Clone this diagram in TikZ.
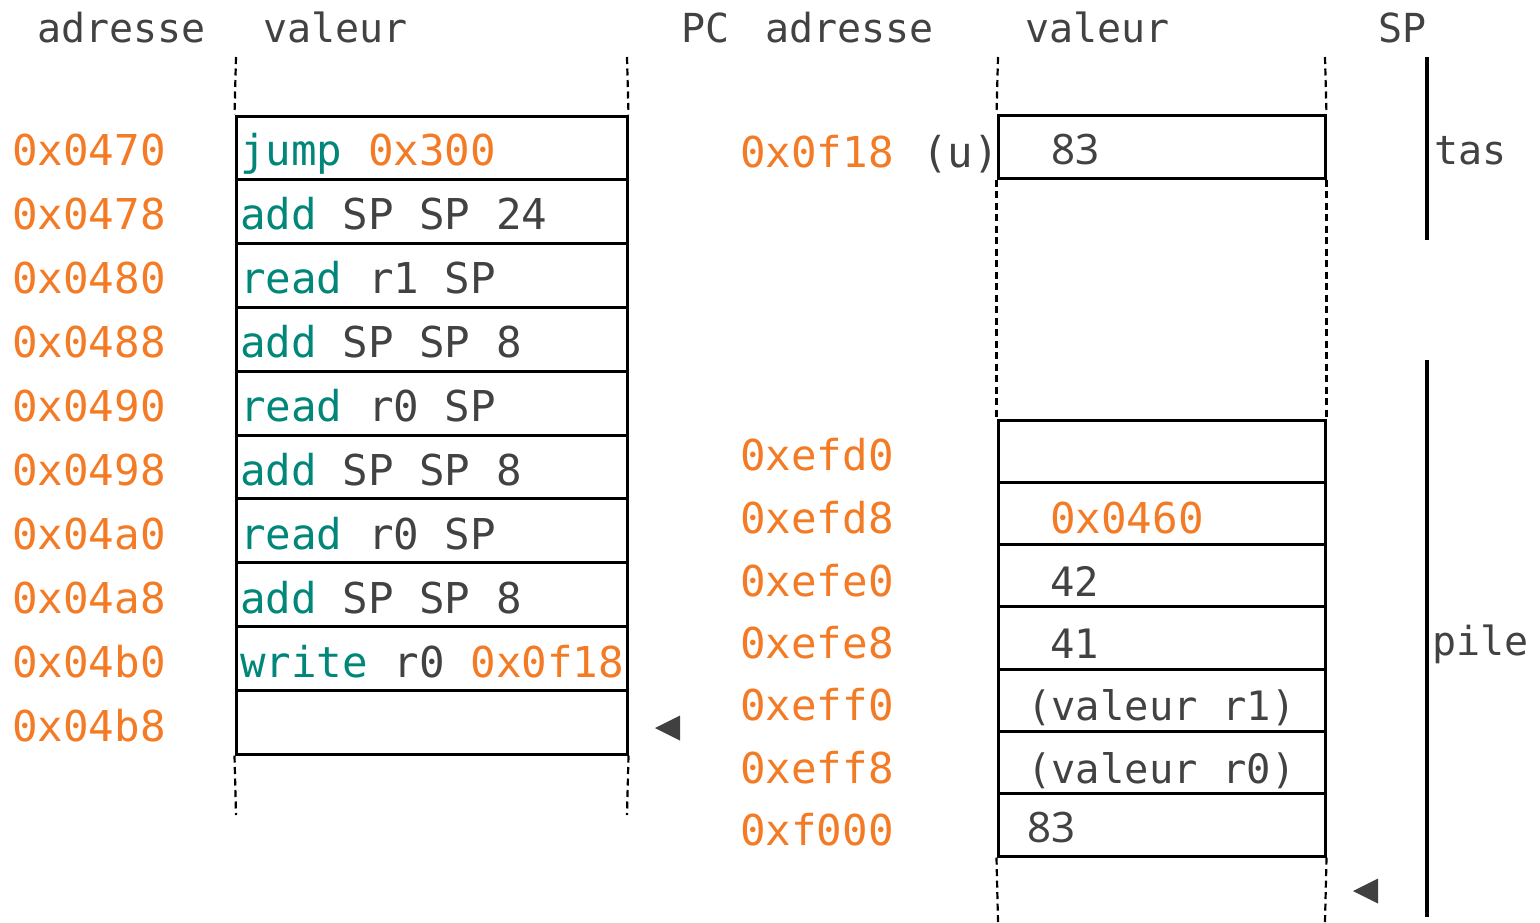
\documentclass[tikz,border=0pt]{standalone}
\usepackage{fontspec}
\setmainfont{Noto Sans}
\setmonofont{DejaVu Sans Mono}
\newfontfamily\numfont{Noto Sans}
\definecolor{txtc}{HTML}{424242}
\definecolor{addrc}{HTML}{F47B25}
\definecolor{kwc}{HTML}{00877A}
\definecolor{ptrc}{HTML}{404040}
\newcommand\codefont{\ttfamily\fontsize{42.5}{50}\selectfont}
\newcommand\headfont{\ttfamily\fontsize{40}{48}\selectfont}
\newcommand\valfont{\ttfamily\fontsize{40.5}{48}\selectfont}
\newcommand\numsfont{\numfont\fontsize{42}{50}\selectfont}
\newcommand\A[1]{\textcolor{addrc}{#1}}
\newcommand\K[1]{\textcolor{kwc}{#1}}
\begin{document}
\begin{tikzpicture}[x=1pt,y=-1pt,
  lcell/.style={draw=black,line width=3pt,minimum width=391pt,minimum height=63.8pt,inner sep=0pt},
  rcell/.style={draw=black,line width=3pt,minimum width=327pt,minimum height=62.3pt,inner sep=0pt},
  code/.style={anchor=base west,inner sep=0pt,font=\codefont,text=txtc},
  head/.style={anchor=base west,inner sep=0pt,font=\headfont,text=txtc},
  addr/.style={anchor=base west,inner sep=0pt,font=\codefont,text=addrc},
  val/.style={anchor=base west,inner sep=0pt,font=\valfont,text=txtc},
  nums/.style={anchor=base west,inner sep=0pt,font=\numsfont,text=txtc},
  guide/.style={draw=black,line width=2.2pt,dash pattern=on 7pt off 4.5pt},
  bar/.style={draw=black,line width=3.2pt},
  ptrtri/.style={fill=ptrc,draw=none}]
\useasboundingbox (0,0) rectangle (1540,922);

% headers
\node[head] (h1) at (37,42) {adresse};
\node[head] (h2) at (263,42) {valeur};
\node[head] (h3) at (681,42) {PC};
\node[head] (h4) at (765,42) {adresse};
\node[head] (h5) at (1025,42) {valeur};
\node[head] (h6) at (1378,42) {SP};

% left table cells
\foreach \i in {1,...,10}{
  \node[lcell] (L\i) at (431.5,{116+63.8*(\i-0.5)}) {};
}
% left addresses
\node[addr] (a1) at (12,165) {0x0470};
\node[addr] (a2) at (12,229) {0x0478};
\node[addr] (a3) at (12,293) {0x0480};
\node[addr] (a4) at (12,357) {0x0488};
\node[addr] (a5) at (12,421) {0x0490};
\node[addr] (a6) at (12,485) {0x0498};
\node[addr] (a7) at (12,549) {0x04a0};
\node[addr] (a8) at (12,613) {0x04a8};
\node[addr] (a9) at (12,677) {0x04b0};
\node[addr] (a10) at (12,741) {0x04b8};
% left code
\node[code] (c1) at (240,165) {\K{jump} \A{0x300}};
\node[code] (c2) at (240,229) {\K{add} SP SP 24};
\node[code] (c3) at (240,293) {\K{read} r1 SP};
\node[code] (c4) at (240,357) {\K{add} SP SP 8};
\node[code] (c5) at (240,421) {\K{read} r0 SP};
\node[code] (c6) at (240,485) {\K{add} SP SP 8};
\node[code] (c7) at (240,549) {\K{read} r0 SP};
\node[code] (c8) at (240,613) {\K{add} SP SP 8};
\node[code] (c9) at (240,677) {\K{write} r0 \A{0x0f18}};

% left guides
\coordinate (lgTL) at (236,57);
\coordinate (lgTR) at (627,57);
\coordinate (lgBL) at (236,815);
\coordinate (lgBR) at (627,815);
\draw[guide] (lgTL) -- (L1.north west);
\draw[guide] (lgTR) -- (L1.north east);
\draw[guide] (L10.south west) -- (lgBL);
\draw[guide] (L10.south east) -- (lgBR);

% PC pointer
\fill[ptrtri] (655,728) -- (680,715.5) -- (680,740.5) -- cycle;

% right table
\node[rcell] (R0) at (1161.5,147) {};
\foreach \i in {1,...,7}{
  \node[rcell] (R\i) at (1161.5,{420+62.3*(\i-0.5)}) {};
}
\coordinate (rgTL) at (998,57);
\coordinate (rgTR) at (1325,57);
\coordinate (rgBL) at (998,922);
\coordinate (rgBR) at (1325,922);
\draw[guide] (rgTL) -- (R0.north west);
\draw[guide] (rgTR) -- (R0.north east);
\draw[guide] (R0.south west) -- (R1.north west);
\draw[guide] (R0.south east) -- (R1.north east);
\draw[guide] (R7.south west) -- (rgBL);
\draw[guide] (R7.south east) -- (rgBR);

% right addresses
\node[addr] (b0) at (740,167) {0x0f18};
\node[code] (u) at (922,167) {(u)};
\node[addr] (b1) at (740,470) {0xefd0};
\node[addr] (b2) at (740,533) {0xefd8};
\node[addr] (b3) at (740,596) {0xefe0};
\node[addr] (b4) at (740,658) {0xefe8};
\node[addr] (b5) at (740,720) {0xeff0};
\node[addr] (b6) at (740,783) {0xeff8};
\node[addr] (b7) at (740,845) {0xf000};

% right values
\node[nums] (v0) at (1051,164) {83};
\node[addr] (v2) at (1050,533) {0x0460};
\node[val] (v3) at (1050,596) {42};
\node[val] (v4) at (1050,658) {41};
\node[val] (v5) at (1027,720) {(valeur r1)};
\node[val] (v6) at (1027,783) {(valeur r0)};
\node[nums] (v7) at (1027,842) {83};

% SP side bars
\coordinate (tasA) at (1427,57);
\coordinate (tasB) at (1427,240);
\coordinate (pileA) at (1427,360);
\coordinate (pileB) at (1427,917);
\draw[bar] (tasA) -- (tasB);
\draw[bar] (pileA) -- (pileB);
\node[head] (tas) at (1434,164) {tas};
\node[head] (pile) at (1432,655) {pile};

% SP pointer
\fill[ptrtri] (1353,891) -- (1378,878.5) -- (1378,903.5) -- cycle;
\end{tikzpicture}
\end{document}
